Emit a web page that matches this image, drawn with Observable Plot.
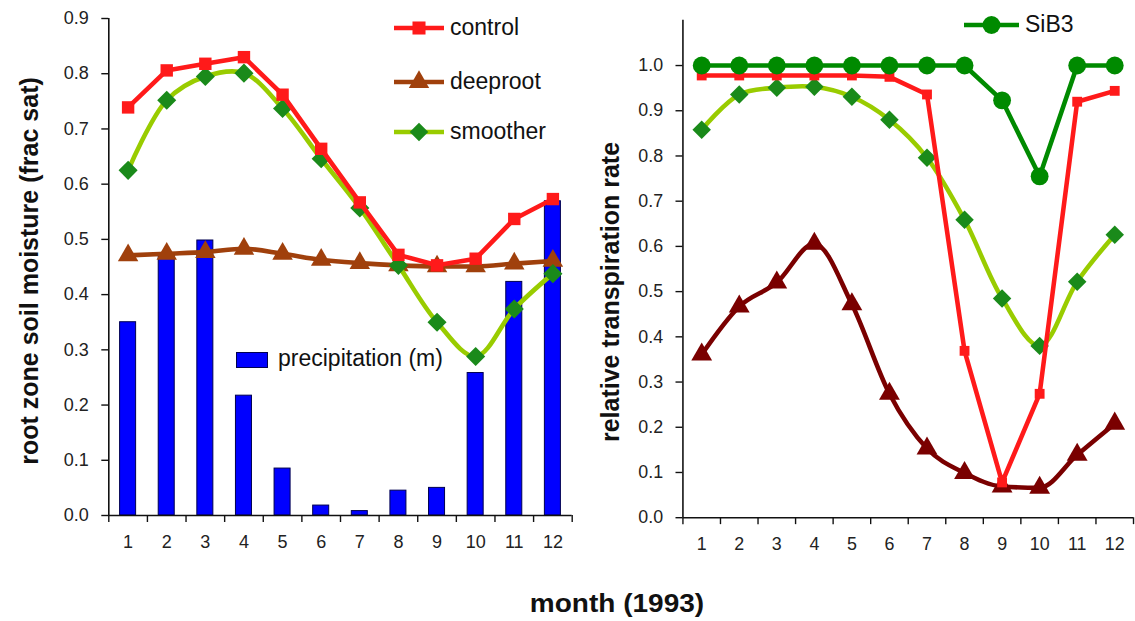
<!DOCTYPE html>
<html><head><meta charset="utf-8">
<script src="https://cdn.jsdelivr.net/npm/d3@7"></script>
<script src="https://cdn.jsdelivr.net/npm/@observablehq/plot@0.6"></script>
<style>
body{margin:0;width:1135px;height:621px;overflow:hidden;background:#fff;font-family:"Liberation Sans",Arial,sans-serif;position:relative;color:#111}
.abs{position:absolute}
.ytitle{position:absolute;transform:translate(-50%,-50%) rotate(-90deg);white-space:nowrap;font-weight:bold;font-size:25px;color:#111}
.leg{position:absolute;font-size:23px;white-space:nowrap;color:#111;line-height:1}
</style></head><body>
<div id="left" class="abs" style="left:0;top:0"></div>
<div id="right" class="abs" style="left:560px;top:0"></div>
<div class="ytitle" style="left:29px;top:271px">root zone soil moisture (frac sat)</div>
<div class="ytitle" style="left:610px;top:292px">relative transpiration rate</div>
<div class="abs" style="left:617px;top:603px;transform:translate(-50%,-50%) scaleX(1.12);font-weight:bold;font-size:25px;white-space:nowrap">month (1993)</div>
<div id="legends"></div>
<script>
const months = [1,2,3,4,5,6,7,8,9,10,11,12];
const monthBounds = [0.5,1.5,2.5,3.5,4.5,5.5,6.5,7.5,8.5,9.5,10.5,11.5,12.5];
const leftYTicks = [0,0.1,0.2,0.3,0.4,0.5,0.6,0.7,0.8,0.9];
const rightYTicks = [0,0.1,0.2,0.3,0.4,0.5,0.6,0.7,0.8,0.9,1.0];

const precip = [0.350,0.470,0.498,0.217,0.085,0.018,0.008,0.045,0.050,0.258,0.423,0.569];
const soilControl = [0.739,0.806,0.818,0.830,0.762,0.664,0.567,0.472,0.453,0.465,0.537,0.573];
const soilDeeproot = [0.471,0.474,0.477,0.483,0.474,0.463,0.457,0.453,0.451,0.451,0.456,0.461];
const soilSmoother = [0.625,0.752,0.795,0.801,0.737,0.646,0.557,0.453,0.350,0.288,0.374,0.438];

const transControl = [0.978,0.978,0.978,0.978,0.978,0.975,0.936,0.369,0.078,0.274,0.920,0.944];
const transDeeproot = [0.361,0.467,0.520,0.606,0.472,0.274,0.153,0.099,0.069,0.066,0.139,0.208];
const transSmoother = [0.858,0.936,0.951,0.953,0.931,0.880,0.796,0.659,0.485,0.380,0.522,0.626];
const transSiB3 = [1,1,1,1,1,1,1,1,0.923,0.755,1,1];

const C = {red:"#ff1a1a", brown:"#a0400c", maroon:"#7a0000", lime:"#99cc00", diamond:"#1a8a1a", green:"#008a00", bar:"#0000ff", barStroke:"#000050"};
const font = '"Liberation Sans", Arial, sans-serif';

const rows = (vals) => months.map((m,i)=>({m, v: vals[i]}));

function series(vals, color, markColor, symbol, r, curve) {
  const d = rows(vals);
  return [
    Plot.line(d, {x:"m", y:"v", stroke: color, strokeWidth: 4.6, curve: curve || "linear"}),
    Plot.dot(d, {x:"m", y:"v", symbol, r, fill: markColor, stroke: "none"})
  ];
}

function axes(yTicks) {
  return [
    Plot.ruleY([0], {stroke:"#111", strokeWidth:1.6}),
    Plot.ruleX([0.5], {stroke:"#111", strokeWidth:1.6}),
    Plot.axisY(yTicks, {tickSize:7, tickPadding:13, tickFormat: d3.format(".1f"), fill:"#222", stroke:"#111", strokeWidth:1.4, label:null}),
    Plot.axisX(monthBounds, {tickSize:7, tickFormat: () => "", stroke:"#111", strokeWidth:1.4, label:null}),
    Plot.axisX(months, {tickSize:0, tickPadding:20, fill:"#222", label:null})
  ];
}

function fixText(svg) {
  d3.select(svg).selectAll("text").attr("font-size", null).style("font-size", "18px").style("font-family", font);
  d3.select(svg).selectAll("g").attr("font-size", null);
  return svg;
}

const left = Plot.plot({
  width:580, height:560,
  marginLeft:108.3, marginRight:8.3, marginTop:18, marginBottom:45,
  x:{domain:[0.5,12.5]}, y:{domain:[0,0.9]},
  style:{fontFamily:font, fontSize:"18px", background:"transparent", overflow:"visible"},
  marks:[
    Plot.rectY(rows(precip), {x1: d=>d.m-0.5, x2: d=>d.m+0.5, y1:0, y2:"v", insetLeft:11.3, insetRight:11.3, fill:C.bar, stroke:C.barStroke, strokeWidth:1}),
    ...axes(leftYTicks),
    ...series(soilDeeproot, C.brown, C.brown, "triangle", 7.6, "monotone-x"),
    ...series(soilSmoother, C.lime, C.diamond, "diamond2", 8.6, "catmull-rom"),
    ...series(soilControl, C.red, C.red, "square", 7.0, "linear")
  ]
});
document.getElementById("left").appendChild(fixText(left));

const right = Plot.plot({
  width:580, height:560,
  marginLeft:123.5, marginRight:2, marginTop:20, marginBottom:38.3,
  x:{domain:[0.5,12.5]}, y:{domain:[0,1.1]},
  style:{fontFamily:font, fontSize:"18px", background:"transparent", overflow:"visible"},
  marks:[
    ...axes(rightYTicks),
    ...series(transDeeproot, C.maroon, C.maroon, "triangle", 7.8, "monotone-x"),
    ...series(transSmoother, C.lime, C.diamond, "diamond2", 8.4, "catmull-rom"),
    ...series(transControl, C.red, C.red, "square", 5.6, "linear"),
    ...series(transSiB3, C.green, C.green, "circle", 9, "linear")
  ]
});
document.getElementById("right").appendChild(fixText(right));

// legends (HTML overlay)
const legendItems = [
  {x1:394, x2:444, y:28, line:C.red, mark:C.red, sym:d3.symbolSquare, size:170, text:"control"},
  {x1:394, x2:444, y:82, line:C.brown, mark:C.brown, sym:d3.symbolTriangle, size:180, text:"deeproot"},
  {x1:394, x2:444, y:132, line:C.lime, mark:C.diamond, sym:d3.symbolDiamond2, size:220, text:"smoother"},
  {x1:964, x2:1019, y:25, line:C.green, mark:C.green, sym:d3.symbolCircle, size:250, text:"SiB3"}
];
const lg = document.getElementById("legends");
for (const it of legendItems) {
  const w = it.x2 - it.x1;
  const svg = d3.create("svg").attr("width", w).attr("height", 24)
    .style("position","absolute").style("left", it.x1+"px").style("top", (it.y-12)+"px").style("overflow","visible");
  svg.append("line").attr("x1",0).attr("x2",w).attr("y1",12).attr("y2",12).attr("stroke",it.line).attr("stroke-width",4.6);
  svg.append("path").attr("d", d3.symbol(it.sym, it.size)()).attr("transform",`translate(${w/2},12)`).attr("fill",it.mark);
  lg.appendChild(svg.node());
  const t = document.createElement("div");
  t.className = "leg"; t.textContent = it.text;
  t.style.left = (it.x2+6)+"px"; t.style.top = (it.y-12)+"px";
  lg.appendChild(t);
}
const box = document.createElement("div");
box.className="abs";
Object.assign(box.style,{left:"236px",top:"352px",width:"30px",height:"14px",background:C.bar,border:"1px solid "+C.barStroke});
lg.appendChild(box);
const pt = document.createElement("div");
pt.className="leg"; pt.textContent="precipitation (m)";
pt.style.left="278px"; pt.style.top="347px";
lg.appendChild(pt);
</script>
</body></html>
